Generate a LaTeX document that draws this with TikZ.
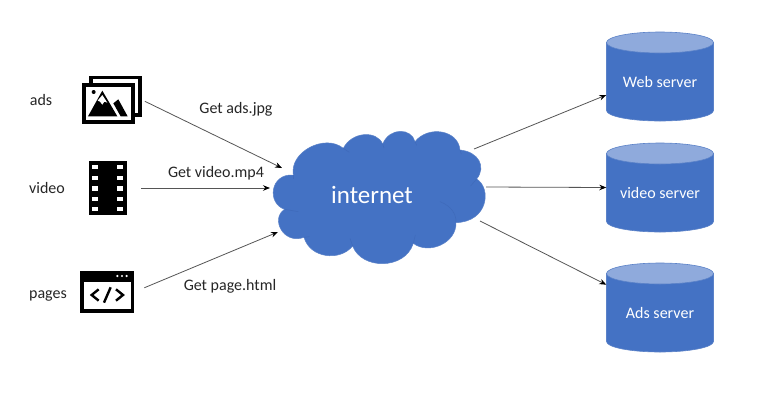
\documentclass[tikz,border=0pt]{standalone}
\usepackage{fontspec}
\setmainfont{Carlito}
\usetikzlibrary{arrows.meta}
\definecolor{bluefill}{HTML}{4472C4}
\definecolor{bluetop}{HTML}{8FAADC}
\definecolor{blueedge}{HTML}{5B82C8}
\definecolor{blueline}{HTML}{3F6ABA}
\definecolor{arrowgrey}{HTML}{555555}
\tikzset{
  link/.style={draw=arrowgrey,line width=0.8pt,-{Stealth[length=7pt,width=5.5pt,color=black]}},
  lbl/.style={font=\fontsize{16}{18}\selectfont,text=black!85,inner sep=0pt},
  srv/.style={font=\fontsize{16}{18}\selectfont,text=white,inner sep=0pt},
  slot/.style={rectangle,minimum width=107pt,minimum height=89pt,inner sep=0pt},
  cylbody/.style={fill=bluefill,draw=blueedge,line width=0.6pt},
  cyltop/.style={fill=bluetop,draw=blueedge,line width=0.6pt},
  iconbox/.style={rectangle,inner sep=0pt},
  innerline/.style={draw=blueline,line width=0.5pt},
}
\newcommand{\drumshape}[2]{%
  \path[cylbody] (#1-53.5,#2-34) -- (#1-53.5,#2+34) arc[start angle=180,end angle=0,x radius=53.5,y radius=10.5]
     -- (#1+53.5,#2-34) -- cycle;
  \path[cyltop] (#1,#2-34) ellipse[x radius=53.5,y radius=10.5];
}
\begin{document}
\begin{tikzpicture}[x=1pt,y=-1pt]
\useasboundingbox (0,0) rectangle (758,400);
\fill[white] (0,0) rectangle (758,400);

% ads icon
\node[iconbox,minimum width=60pt,minimum height=48pt] (adsicon) at (112,100) {};
\begin{scope}[shift={(60,60)},x=0.3333pt,y=-0.3333pt]
  \draw[line width=3.4pt,fill=white] (93,52) rectangle (240,165);
  \draw[line width=3.9pt,fill=white] (71,76) rectangle (219,186);
  \fill (84,169) -- (127,92) -- (172,169) -- cycle;
  \fill[white] (113,122) -- (127,105) -- (142,128) -- (133,125) -- (127,134) -- (120,125) -- cycle;
  \fill (160,130) -- (175,118) -- (203,169) -- (182,169) -- cycle;
  \fill (101,96) circle[radius=6];
\end{scope}

% video icon
\node[iconbox,minimum width=38pt,minimum height=54pt] (videoicon) at (108,188) {};
\begin{scope}[shift={(60,150)},x=0.3333pt,y=-0.3333pt]
  \fill (87,33) rectangle (200,195);
  \foreach \yy in {51,83,115,147,177}{
    \fill[white] (97,\yy-6.5) rectangle (113,\yy+6.5);
    \fill[white] (172,\yy-6.5) rectangle (188,\yy+6.5);
  }
\end{scope}

% pages icon
\node[iconbox,minimum width=54pt,minimum height=42pt] (pagesicon) at (107,292) {};
\begin{scope}[shift={(60,150)},x=0.3333pt,y=-0.3333pt]
  \fill (60,362) rectangle (223,488);
  \fill[white] (72,396) rectangle (212,476);
  \foreach \xx in {172,186,200}{\fill[white] (\xx,378) circle[radius=3.6];}
  \draw[line width=2.4pt,line join=miter] (116,418) -- (95,435) -- (116,452);
  \draw[line width=2.4pt] (152,412) -- (132,458);
  \draw[line width=2.4pt,line join=miter] (168,418) -- (189,435) -- (168,452);
\end{scope}

% cloud
\begin{scope}[shift={(260,120)},x=0.3333pt,y=-0.3333pt]
  \path[fill=bluefill,draw=blueedge,line width=0.5pt]
    (100,165) .. controls (88,95) and (195,40) .. (250,85)
    .. controls (275,35) and (350,30) .. (368,72)
    .. controls (390,20) and (455,25) .. (465,65)
    .. controls (505,15) and (595,30) .. (600,90)
    .. controls (655,95) and (680,140) .. (650,177)
    .. controls (695,205) and (685,305) .. (588,308)
    .. controls (590,370) and (505,405) .. (460,370)
    .. controls (435,450) and (305,450) .. (278,378)
    .. controls (240,425) and (150,415) .. (132,352)
    .. controls (70,375) and (30,295) .. (74,268)
    .. controls (20,250) and (30,160) .. (100,165) -- cycle;
  \draw[innerline] (250,85) -- (268,97);
  \draw[innerline] (368,72) -- (372,84);
  \draw[innerline] (465,65) -- (470,76);
  \draw[innerline] (600,90) -- (604,102);
  \draw[innerline] (650,177) -- (632,198);
  \draw[innerline] (540,245) .. controls (575,258) and (590,285) .. (588,308);
  \draw[innerline] (460,370) -- (466,345);
  \draw[innerline] (278,378) -- (270,355);
  \draw[innerline] (132,352) -- (148,350);
  \draw[innerline] (74,268) -- (115,275);
  \draw[innerline] (100,165) -- (100,176);
\end{scope}
\node[font=\fontsize{25}{28}\selectfont,text=white,inner sep=0pt] (cloud) at (372,195) {internet};

% cloud connection points
\coordinate (cloudA) at (282,168);
\coordinate (cloudB) at (270,188);
\coordinate (cloudC) at (278,232);
\coordinate (cloudD) at (474,149);
\coordinate (cloudE) at (486,187);
\coordinate (cloudF) at (480,221);

% servers
\drumshape{660}{76.5}
\drumshape{660}{187.5}
\drumshape{660}{307.5}
\node[slot] (web) at (660,76.5) {};
\node[slot] (vid) at (660,187.5) {};
\node[slot] (adserv) at (660,307.5) {};
\node[srv] (webt) at (660,82) {Web server};
\node[srv] (vidt) at (660,192.5) {video server};
\node[srv] (adst) at (660,313) {Ads server};

% left labels
\node[lbl] (adsl) at (41,100) {ads};
\node[lbl] (vidl) at (47,188) {video};
\node[lbl] (pagl) at (48,296) {pages};
\node[lbl] (geta) at (236,109) {Get ads.jpg};
\node[lbl] (getv) at (216,173) {Get video.mp4};
\node[lbl] (getp) at (230,286) {Get page.html};

% connectors
\draw[link,shorten <=3pt] (adsicon.east) -- (cloudA);
\draw[link,shorten <=14pt] (videoicon.east) -- (cloudB);
\draw[link,shorten <=11pt] (pagesicon.east) -- (cloudC);
\draw[link] (cloudD) -- (web.199);
\draw[link] (cloudE) -- (vid.180);
\draw[link] (cloudF) -- (adserv.157);
\end{tikzpicture}
\end{document}
